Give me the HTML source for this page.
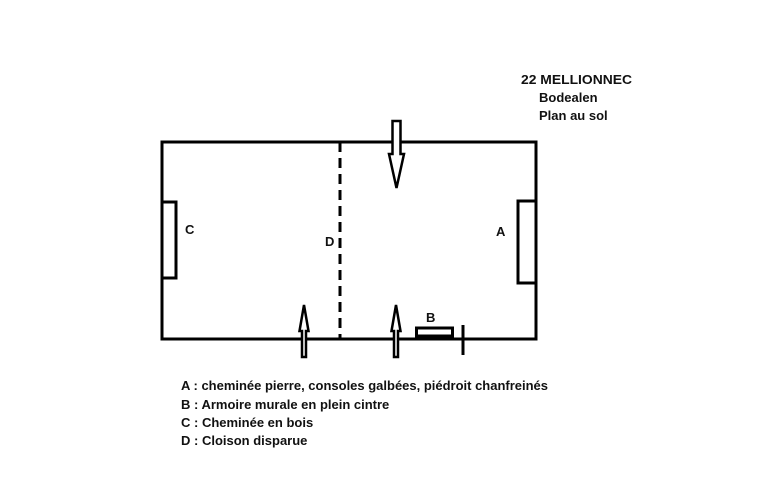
<!DOCTYPE html>
<html><head><meta charset="utf-8"><style>
html,body{margin:0;padding:0;background:#fff;}
svg{display:block;}
text{font-family:"Liberation Sans",sans-serif;font-weight:bold;font-size:13px;fill:#111;}
</style></head><body>
<svg width="768" height="494" viewBox="0 0 768 494" xmlns="http://www.w3.org/2000/svg">
<g stroke="#000" stroke-width="3" fill="none">
<rect x="162" y="142" width="374" height="197"/>
<rect x="162" y="202" width="14" height="76" fill="#fff"/>
<rect x="518" y="201" width="18" height="82" fill="#fff"/>
<line x1="340" y1="142" x2="340" y2="339" stroke-dasharray="10,6"/>
<rect x="416.5" y="328" width="36" height="8" fill="#fff"/>
<line x1="463" y1="325" x2="463" y2="355"/>
</g>
<line x1="416" y1="337" x2="453" y2="337" stroke="#000" stroke-width="3"/>
<g stroke="#000" stroke-width="2.5" fill="#fff">
<polygon points="392.5,121 400.5,121 400.5,154 404,154 396.5,188 389,154 392.5,154"/>
<polygon points="302,357 306,357 306,331 308.5,331 304,305 299.5,331 302,331"/>
<polygon points="394,357 398,357 398,331 400.5,331 396,305 391.5,331 394,331"/>
</g>
<text x="185" y="234">C</text>
<text x="496" y="236">A</text>
<text x="325" y="246">D</text>
<text x="426" y="322">B</text>
<text x="521" y="84" textLength="111" lengthAdjust="spacingAndGlyphs">22 MELLIONNEC</text>
<text x="539" y="102">Bodealen</text>
<text x="539" y="120">Plan au sol</text>
<text x="181" y="390" textLength="367" lengthAdjust="spacingAndGlyphs">A : cheminée pierre, consoles galbées, piédroit chanfreinés</text>
<text x="181" y="409">B : Armoire murale en plein cintre</text>
<text x="181" y="427">C : Cheminée en bois</text>
<text x="181" y="445">D : Cloison disparue</text>
</svg>
</body></html>
